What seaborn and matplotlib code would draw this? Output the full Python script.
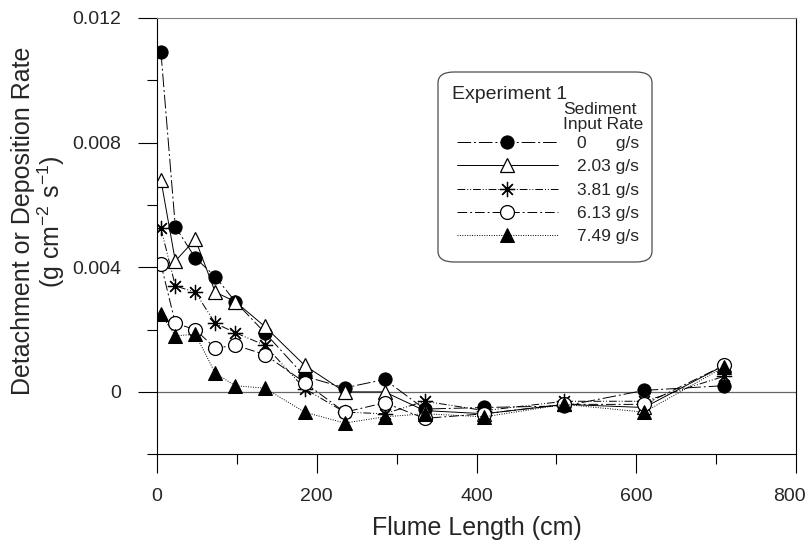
import matplotlib
matplotlib.use("Agg")
import matplotlib.pyplot as plt
import matplotlib.transforms as mtransforms
import seaborn as sns
from matplotlib.patches import FancyBboxPatch
from matplotlib.ticker import MultipleLocator, FixedLocator, FixedFormatter

# flume positions (cm) and detachment/deposition rates (g cm-2 s-1)
flume_length = [5, 23, 48, 73, 98, 135, 185, 235, 285, 335, 410, 510, 610, 710]
rate_0 = [0.0109, 0.0053, 0.0043, 0.0037, 0.0029, 0.0019, 0.0005, 0.00013,
          0.0004, -0.00055, -0.0005, -0.00045, 0.00005, 0.0002]
rate_203 = [0.0068, 0.0042, 0.0049, 0.0032, 0.0029, 0.0021, 0.00085, 0.0,
            0.0, -0.0006, -0.0007, -0.0004, -0.0005, 0.00085]
rate_381 = [0.00525, 0.0034, 0.0032, 0.0022, 0.0019, 0.0015, 0.0001, -0.00065,
            -0.0007, -0.0003, -0.0006, -0.0003, -0.0003, 0.0005]
rate_613 = [0.0041, 0.0022, 0.002, 0.0014, 0.0015, 0.0012, 0.0003, -0.00065,
            -0.00035, -0.00085, -0.0007, -0.0004, -0.0004, 0.00085]
rate_749 = [0.0025, 0.0018, 0.00185, 0.0006, 0.0002, 0.00012, -0.00065, -0.001,
            -0.0008, -0.0007, -0.0008, -0.0004, -0.00065, 0.0008]
series_labels = ["0      g/s", "2.03 g/s", "3.81 g/s", "6.13 g/s", "7.49 g/s"]
x_ticks = [0, 200, 400, 600, 800]
y_ticks = [0, 0.004, 0.008, 0.012]
y_ticklabels = ["0", "0.004", "0.008", "0.012"]

sns.set_theme(style="ticks")
plt.rcParams["font.family"] = ["Liberation Sans", "DejaVu Sans"]
plt.rcParams["mathtext.default"] = "regular"

fig = plt.figure(figsize=(8.09, 5.44), dpi=100)
ax = fig.add_axes([0.194, 0.165, 0.790, 0.802])

styles = [
    dict(marker="o", mfc="black", mec="black", ms=9.5, ls=(0, (14, 3, 2, 3))),
    dict(marker="^", mfc="white", mec="black", ms=9.5, mew=0.9, ls="-"),
    dict(marker=(8, 2, 0), mfc="black", mec="black", ms=11, mew=0.9, ls=(0, (8, 2, 1, 2, 1, 2))),
    dict(marker="o", mfc="white", mec="black", ms=10, mew=0.9, ls=(0, (10, 3, 2, 3))),
    dict(marker="^", mfc="black", mec="black", ms=9.5, ls=(0, (1, 1.5))),
]
series = [rate_0, rate_203, rate_381, rate_613, rate_749]

ax.axhline(0, color="0.4", lw=0.9, zorder=0)
for vals, lab, st in zip(series, series_labels, styles):
    sns.lineplot(x=flume_length, y=vals, ax=ax, label=lab, color="black",
                 lw=0.7, errorbar=None, **st)

ax.set_xlim(0, 800)
ax.set_ylim(-0.002, 0.012)
ax.xaxis.set_major_locator(FixedLocator(x_ticks))
ax.xaxis.set_minor_locator(MultipleLocator(100))
ax.yaxis.set_major_locator(FixedLocator(y_ticks))
ax.yaxis.set_major_formatter(FixedFormatter(y_ticklabels))
ax.yaxis.set_minor_locator(MultipleLocator(0.002))
ax.tick_params(which="major", direction="out", length=14, width=0.8,
               labelsize=14, color="black")
ax.tick_params(axis="y", which="major", pad=12)
ax.tick_params(axis="x", which="major", pad=10)
ax.tick_params(which="minor", direction="out", length=7, width=0.8, color="black")

for side in ["left", "bottom", "right"]:
    ax.spines[side].set_color("black")
    ax.spines[side].set_linewidth(0.8)
ax.spines["top"].set_color("0.5")
ax.spines["top"].set_linewidth(0.8)

ax.set_xlabel("Flume Length (cm)", fontsize=18, labelpad=8)
ax.set_ylabel("Detachment or Deposition Rate\n(g cm$^{-2}$ s$^{-1}$)",
              fontsize=18, linespacing=1.0)
ax.yaxis.set_label_coords(-0.141, 0.534)

# keep the "800" tick label inside the figure
fig.canvas.draw()
for lbl in ax.get_xticklabels():
    if lbl.get_text() == "800":
        lbl.set_transform(lbl.get_transform() +
                          mtransforms.ScaledTranslation(-7 / 100, 0, fig.dpi_scale_trans))

# legend
handles, labels = ax.get_legend_handles_labels()
ax.legend(handles, labels, loc="upper left", frameon=False, fontsize=12.5,
          bbox_to_anchor=(457 / 809, 1 - 136 / 544), bbox_transform=fig.transFigure,
          borderpad=0, borderaxespad=0, handlelength=5.8, handletextpad=1.1,
          labelspacing=0.47, numpoints=1)
box = FancyBboxPatch((438 / 809, 1 - 262 / 544), (652 - 438) / 809, (262 - 72) / 544,
                     boxstyle="round,pad=0,rounding_size=0.02", transform=fig.transFigure,
                     facecolor="none", edgecolor="0.3", lw=0.9)
fig.patches.append(box)
fig.text(452 / 809, 1 - 95 / 544, "Experiment 1", fontsize=14, ha="left", va="center")
fig.text(563 / 809, 1 - 117 / 544, "Sediment\nInput Rate", fontsize=12.5, ha="left",
         va="center", linespacing=1.05)

fig.savefig("out.png", dpi=100)
